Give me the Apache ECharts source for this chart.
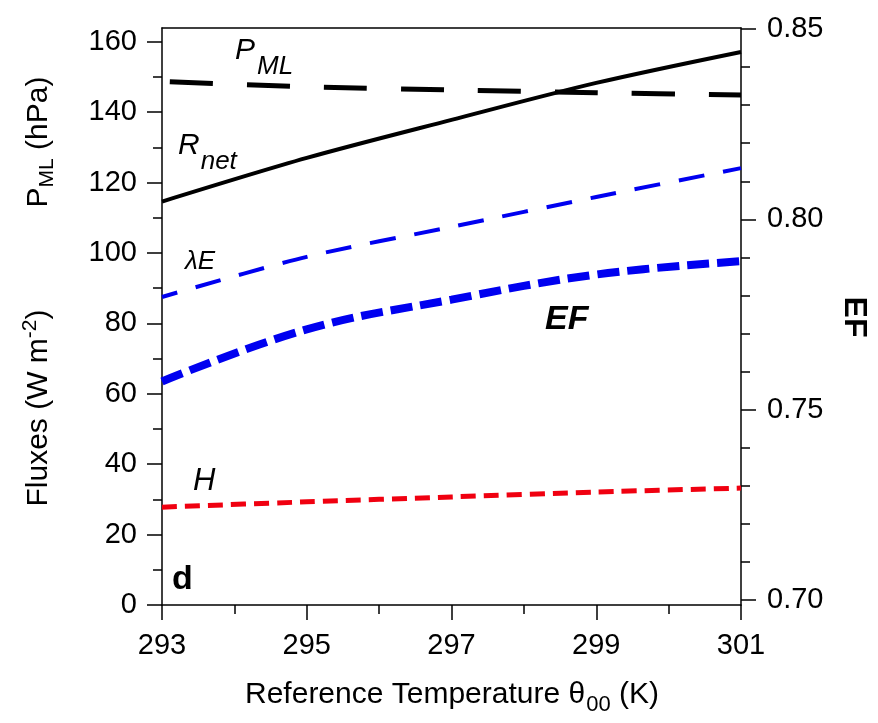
<!DOCTYPE html>
<html><head><meta charset="utf-8">
<script src="https://cdn.jsdelivr.net/npm/echarts@6/dist/echarts.min.js"></script>
<style>html,body{margin:0;padding:0;background:#fff}#c{width:878px;height:723px}</style>
</head><body><div id="c"></div>
<script>
// ---- data ----
const temps   = [293, 295, 297, 299, 301];
const rnet    = [114.6, 127.0, 137.8, 148.3, 157.1];
const pml     = [148.7, 147.2, 146.3, 145.5, 144.9];
const lambdaE = [87.5, 98.9, 107.4, 115.9, 124.1];
const ef      = [0.7574, 0.7711, 0.7789, 0.7855, 0.7890];
const sensH   = [27.8, 29.3, 30.7, 32.1, 33.2];

const xTicks = [293, 295, 297, 299, 301];
const xMinorTicks = [294, 296, 298, 300];
const leftTicks = [0, 20, 40, 60, 80, 100, 120, 140, 160];
const leftMinorTicks = [10, 30, 50, 70, 90, 110, 130, 150];
const rightTicks = [0.70, 0.75, 0.80, 0.85];
const rightMinorTicks = [0.71, 0.72, 0.73, 0.74, 0.76, 0.77, 0.78, 0.79, 0.81, 0.82, 0.83, 0.84];

const FF = 'Liberation Sans, Arial, sans-serif';
const lineSt = {color: '#000', width: 1.5};

function pairs(ys) { return temps.map((t, i) => [t, ys[i]]); }

function xAx(opts) {
  return Object.assign({
    type: 'value', min: 293, max: 301, position: 'bottom',
    axisLine: {show: false, onZero: false, lineStyle: lineSt},
    axisTick: {show: false},
    axisLabel: {show: false},
    splitLine: {show: false}
  }, opts);
}
function yAx(opts) {
  return Object.assign({
    type: 'value',
    axisLine: {show: false, onZero: false, lineStyle: lineSt},
    axisTick: {show: false},
    axisLabel: {show: false},
    splitLine: {show: false}
  }, opts);
}

const LMIN = 0, LMAX = 163.9, RMIN = 0.69869, RMAX = 0.85026;

const option = {
  backgroundColor: '#fff',
  animation: false,
  grid: {left: 162, right: 137, top: 28, bottom: 118, containLabel: false},
  xAxis: [
    xAx({axisLine: {show: true, onZero: false, lineStyle: lineSt},
         axisTick: {show: true, customValues: xTicks, length: 15, lineStyle: lineSt},
         axisLabel: {show: true, customValues: xTicks, fontSize: 29, fontFamily: FF, color: '#000', margin: 26}}),
    xAx({axisTick: {show: true, customValues: xMinorTicks, length: 9, lineStyle: lineSt}}),
    xAx({position: 'top', axisLine: {show: true, onZero: false, lineStyle: lineSt}})
  ],
  yAxis: [
    yAx({position: 'left', min: LMIN, max: LMAX,
         axisLine: {show: true, onZero: false, lineStyle: lineSt},
         axisTick: {show: true, customValues: leftTicks, length: 15, lineStyle: lineSt},
         axisLabel: {show: true, customValues: leftTicks, fontSize: 29, fontFamily: FF, color: '#000', margin: 25}}),
    yAx({position: 'left', min: LMIN, max: LMAX,
         axisTick: {show: true, customValues: leftMinorTicks, length: 9, lineStyle: lineSt}}),
    yAx({position: 'right', min: RMIN, max: RMAX,
         axisLine: {show: true, onZero: false, lineStyle: lineSt},
         axisTick: {show: true, customValues: rightTicks, length: 15, lineStyle: lineSt},
         axisLabel: {show: true, customValues: rightTicks, fontSize: 29, fontFamily: FF, color: '#000', margin: 26,
                     formatter: v => v.toFixed(2)}}),
    yAx({position: 'right', min: RMIN, max: RMAX,
         axisTick: {show: true, customValues: rightMinorTicks, length: 9, lineStyle: lineSt}})
  ],
  series: [
    {name: 'Rnet', type: 'line', xAxisIndex: 0, yAxisIndex: 0, data: pairs(rnet), symbol: 'none', smooth: 0.3,
     lineStyle: {color: '#000', width: 4, type: 'solid'}},
    {name: 'PML', type: 'line', xAxisIndex: 0, yAxisIndex: 0, data: pairs(pml), symbol: 'none', smooth: 0.3,
     lineStyle: {color: '#000', width: 5, type: [43, 34], dashOffset: 69}},
    {name: 'lambdaE', type: 'line', xAxisIndex: 0, yAxisIndex: 0, data: pairs(lambdaE), symbol: 'none', smooth: 0.3,
     lineStyle: {color: '#0000f0', width: 4, type: [26, 19], dashOffset: 10}},
    {name: 'H', type: 'line', xAxisIndex: 0, yAxisIndex: 0, data: pairs(sensH), symbol: 'none', smooth: 0.3,
     lineStyle: {color: '#f00010', width: 5, type: [15, 8]}},
    {name: 'EF', type: 'line', xAxisIndex: 0, yAxisIndex: 2, data: pairs(ef), symbol: 'none', smooth: 0.4,
     lineStyle: {color: '#0000f0', width: 8, type: [22, 8]}}
  ],
  graphic: [
    {type: 'text', x: 235, y: 51, style: {text: '{m|P}{s|ML}', align: 'left', verticalAlign: 'middle', fill: '#000',
      rich: {m: {fontSize: 30, fontStyle: 'italic', fontFamily: FF}, s: {fontSize: 26, fontStyle: 'italic', fontFamily: FF, padding: [32, 0, 0, 2]}}}},
    {type: 'text', x: 178, y: 146, style: {text: '{m|R}{s|net}', align: 'left', verticalAlign: 'middle', fill: '#000',
      rich: {m: {fontSize: 30, fontStyle: 'italic', fontFamily: FF}, s: {fontSize: 26, fontStyle: 'italic', fontFamily: FF, padding: [32, 0, 0, 1]}}}},
    {type: 'text', x: 185, y: 262, style: {text: 'λE', align: 'left', verticalAlign: 'middle', fill: '#000',
      fontSize: 26, fontStyle: 'italic', fontFamily: FF}},
    {type: 'text', x: 545, y: 320, style: {text: 'EF', align: 'left', verticalAlign: 'middle', fill: '#000',
      fontSize: 34, fontStyle: 'italic', fontWeight: 'bold', fontFamily: FF}},
    {type: 'text', x: 193, y: 481, style: {text: 'H', align: 'left', verticalAlign: 'middle', fill: '#000',
      fontSize: 31, fontStyle: 'italic', fontFamily: FF}},
    {type: 'text', x: 172, y: 580, style: {text: 'd', align: 'left', verticalAlign: 'middle', fill: '#000',
      fontSize: 34, fontWeight: 'bold', fontFamily: FF}},
    {type: 'text', x: 39, y: 142, rotation: Math.PI / 2, style: {text: '{m|P}{s|ML}{m| (hPa)}', align: 'center', verticalAlign: 'middle', fill: '#000',
      rich: {m: {fontSize: 30, fontFamily: FF}, s: {fontSize: 21, fontFamily: FF, padding: [16, 0, 0, 0]}}}},
    {type: 'text', x: 39, y: 408, rotation: Math.PI / 2, style: {text: '{m|Fluxes (W m}{p|-2}{m|)}', align: 'center', verticalAlign: 'middle', fill: '#000',
      rich: {m: {fontSize: 30, fontFamily: FF}, p: {fontSize: 21, fontFamily: FF, padding: [0, 0, 18, 0]}}}},
    {type: 'text', x: 854, y: 317, rotation: -Math.PI / 2, style: {text: 'EF', align: 'center', verticalAlign: 'middle', fill: '#000',
      fontSize: 32, fontWeight: 'bold', fontFamily: FF}},
    {type: 'text', x: 452, y: 695, style: {text: '{m|Reference Temperature θ}{s|00}{m| (K)}', align: 'center', verticalAlign: 'middle', fill: '#000',
      rich: {m: {fontSize: 30, fontFamily: FF}, s: {fontSize: 22, fontFamily: FF, padding: [20, 0, 0, 1]}}}}
  ]
};

const chart = echarts.init(document.getElementById('c'), null, {renderer: 'canvas'});
chart.setOption(option);
</script>
</body></html>
